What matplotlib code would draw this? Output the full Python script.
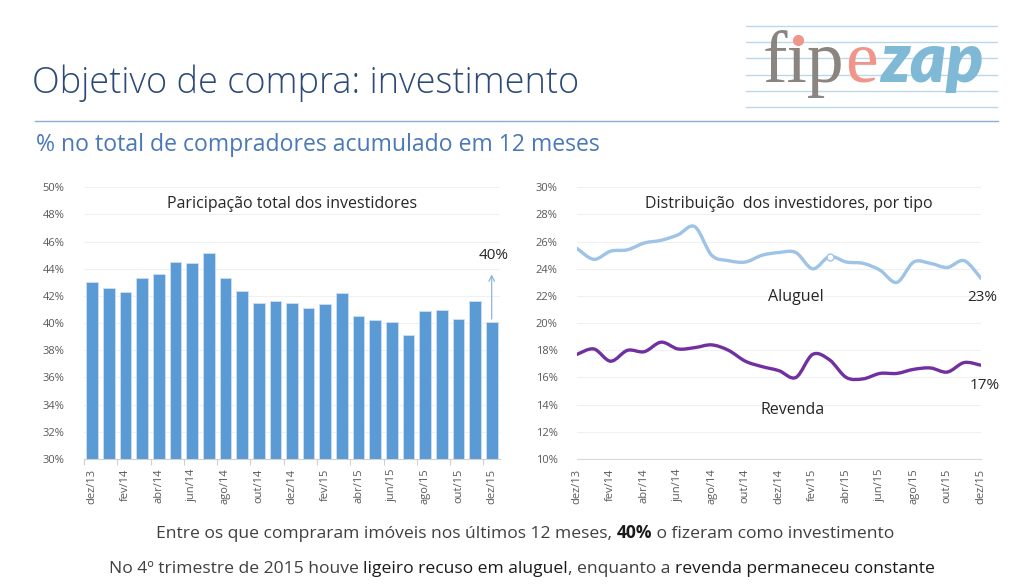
import numpy as np
import matplotlib
matplotlib.use("Agg")
import matplotlib.pyplot as plt
from matplotlib.path import Path
from matplotlib.patches import PathPatch
from matplotlib.lines import Line2D
from matplotlib.text import Annotation

plt.rcParams['font.family'] = ['Open Sans', 'DejaVu Sans']

# --- data ---
meses = ['dez/13', 'jan/14', 'fev/14', 'mar/14', 'abr/14', 'mai/14', 'jun/14', 'jul/14',
         'ago/14', 'set/14', 'out/14', 'nov/14', 'dez/14', 'jan/15', 'fev/15', 'mar/15',
         'abr/15', 'mai/15', 'jun/15', 'jul/15', 'ago/15', 'set/15', 'out/15', 'nov/15', 'dez/15']
participacao = [43.0, 42.6, 42.3, 43.3, 43.6, 44.5, 44.4, 45.2, 43.3, 42.4, 41.5, 41.6, 41.5,
                41.1, 41.4, 42.2, 40.5, 40.2, 40.1, 39.1, 40.9, 41.0, 40.3, 41.6, 40.1]
aluguel = [25.5, 24.7, 25.3, 25.4, 25.9, 26.1, 26.5, 27.1, 25.0, 24.6, 24.5, 25.0, 25.2,
           25.2, 24.0, 24.9, 24.5, 24.4, 23.9, 23.0, 24.5, 24.4, 24.1, 24.6, 23.3]
revenda = [17.7, 18.1, 17.2, 18.0, 17.9, 18.6, 18.1, 18.2, 18.4, 18.0, 17.2, 16.8, 16.5,
           16.0, 17.7, 17.3, 16.0, 15.9, 16.3, 16.3, 16.6, 16.7, 16.4, 17.1, 16.9]

W, H = 1024, 588
fig = plt.figure(figsize=(W / 100, H / 100), dpi=100)


def fx(x):
    return x / W


def fy(y):
    return 1 - y / H


def smooth_path(xs, ys):
    # excel style smoothed line: cubic bezier through the points
    P = np.column_stack([xs, ys]).astype(float)
    n = len(P)
    verts = [P[0]]
    codes = [Path.MOVETO]
    for i in range(n - 1):
        p0 = P[i - 1] if i > 0 else P[i]
        p1, p2 = P[i], P[i + 1]
        p3 = P[i + 2] if i + 2 < n else P[i + 1]
        verts += [p1 + (p2 - p0) / 6, p2 - (p3 - p1) / 6, p2]
        codes += [Path.CURVE4] * 3
    return Path(verts, codes)


def rainbow(x0, y0, parts, size=12, **kw):
    # pieces of text one after the other on the same baseline
    prev = None
    for txt, col, wt in parts:
        if prev is None:
            prev = fig.text(fx(x0), fy(y0), txt, fontsize=size, color=col, fontweight=wt,
                            va='baseline', ha='left', **kw)
        else:
            prev = fig.add_artist(Annotation(
                txt, xy=(1, 0), xycoords=prev, xytext=(0, 0), textcoords='offset points',
                fontsize=size, color=col, fontweight=wt, va='bottom', ha='left', **kw))
    return prev


# header
fig.text(fx(32), fy(93), 'Objetivo de compra: investimento', fontsize=26, color='#2c4a78',
         va='baseline', ha='left', fontweight='light')
fig.add_artist(Line2D([fx(35), fx(998)], [fy(120.5), fy(120.5)], color='#8eaad6', lw=1))
fig.text(fx(36), fy(151), '% no total de compradores acumulado em 12 meses', fontsize=16.6,
         color='#4a78b8', va='baseline', ha='left')

# logo
for ly in [25.7, 42.3, 58.3, 75, 91, 107.3]:
    fig.add_artist(Line2D([fx(746), fx(997)], [fy(ly), fy(ly)], color='#bcd7e6', lw=1))
rainbow(763, 82, [('f\u0131p', '#8a8580', 'normal'), ('e', '#f0958a', 'normal')], size=53,
        family='Liberation Serif')
fig.add_artist(Line2D([fx(798)], [fy(40)], marker='o', ms=7, color='#f0958a', lw=0))
fig.text(fx(880), fy(82), 'zap', fontsize=49, family='Lato', fontweight='heavy', style='italic',
         color='#7fb9d5', va='baseline', ha='left')

tick_col = '#595959'

# left chart: bars
ax1 = fig.add_axes([fx(84), fy(459), fx(500) - fx(84), fy(187.3) - fy(459)])
x = np.arange(len(meses))
ax1.bar(x, participacao, width=0.7, color='#5b9bd5', edgecolor='#cfe0f1', linewidth=0.6, zorder=2)
ax1.set_ylim(30, 50)
ax1.set_xlim(-0.5, len(meses) - 0.5)
ax1.set_yticks(np.arange(30, 51, 2))
ax1.set_yticklabels([f'{v}%' for v in range(30, 51, 2)])
ax1.set_xticks(x[::2])
ax1.set_xticklabels(meses[::2], rotation=90)
ax1.set_xticks(np.arange(-0.5, len(meses) - 1, 2), minor=True)
ax1.tick_params(axis='x', which='major', length=0, pad=7, labelsize=8, labelcolor=tick_col)
ax1.tick_params(axis='x', which='minor', length=4, color='#d0d0d0', width=0.8)
ax1.tick_params(axis='y', length=0, pad=14, labelsize=8, labelcolor=tick_col)
ax1.grid(axis='y', color='#f0f0f0', lw=0.8, zorder=0)
for s in ['top', 'right', 'left']:
    ax1.spines[s].set_visible(False)
ax1.spines['bottom'].set_color('#d0d0d0')
ax1.text(12.0, 48.8, 'Paricipação total dos investidores', ha='center', va='center',
         fontsize=11.5, color='#262626')
ax1.annotate('', xy=(24, 43.8), xytext=(24, participacao[-1]),
             arrowprops=dict(arrowstyle='->', color='#8db4e2', lw=0.9))
ax1.text(24.1, 45.0, '40%', ha='center', va='center', fontsize=11, color='#262626')

# right chart: lines
ax2 = fig.add_axes([fx(577), fy(459), fx(981) - fx(577), fy(187.3) - fy(459)])
ax2.set_xlim(0, len(meses) - 1)
ax2.set_ylim(10, 30)
ax2.add_patch(PathPatch(smooth_path(x, aluguel), fill=False, edgecolor='#9dc3e6', lw=2.4,
                        capstyle='round', zorder=3))
ax2.add_patch(PathPatch(smooth_path(x, revenda), fill=False, edgecolor='#7030a0', lw=2.4,
                        capstyle='round', zorder=3))
ax2.plot([15], [aluguel[15]], marker='o', ms=5, mfc='white', mec='#9dc3e6', lw=0, zorder=4)
ax2.set_yticks(np.arange(10, 31, 2))
ax2.set_yticklabels([f'{v}%' for v in range(10, 31, 2)])
ax2.set_xticks(x[::2])
ax2.set_xticklabels(meses[::2], rotation=90)
ax2.tick_params(axis='x', length=0, pad=7, labelsize=8, labelcolor=tick_col)
ax2.tick_params(axis='y', length=0, pad=14, labelsize=8, labelcolor=tick_col)
ax2.grid(axis='y', color='#f0f0f0', lw=0.8, zorder=0)
for s in ['top', 'right', 'left']:
    ax2.spines[s].set_visible(False)
ax2.spines['bottom'].set_color('#d9d9d9')
ax2.text(12.6, 28.8, 'Distribuição  dos investidores, por tipo', ha='center', va='center',
         fontsize=11.5, color='#262626')
ax2.text(13.0, 21.9, 'Aluguel', ha='center', va='center', fontsize=11.5, color='#262626')
ax2.text(24.05, 21.9, '23%', ha='center', va='center', fontsize=11, color='#262626')
ax2.text(12.8, 13.6, 'Revenda', ha='center', va='center', fontsize=11.5, color='#262626')
ax2.text(24.25, 15.4, '17%', ha='center', va='center', fontsize=11, color='#262626')

# bottom notes
gray = '#404040'
dark = '#1a1a1a'
rainbow(156, 538, [('Entre os que compraram imóveis nos últimos 12 meses, ', gray, 'normal'),
                   ('40%', dark, 'bold'),
                   (' o fizeram como investimento', gray, 'normal')], size=12.6)
rainbow(109, 573, [('No 4º trimestre de 2015 houve ', gray, 'normal'),
                   ('ligeiro recuso em aluguel', dark, 'normal'),
                   (', enquanto a ', gray, 'normal'),
                   ('revenda permaneceu constante', dark, 'normal')], size=12.6)

fig.savefig('out.png', dpi=100)
